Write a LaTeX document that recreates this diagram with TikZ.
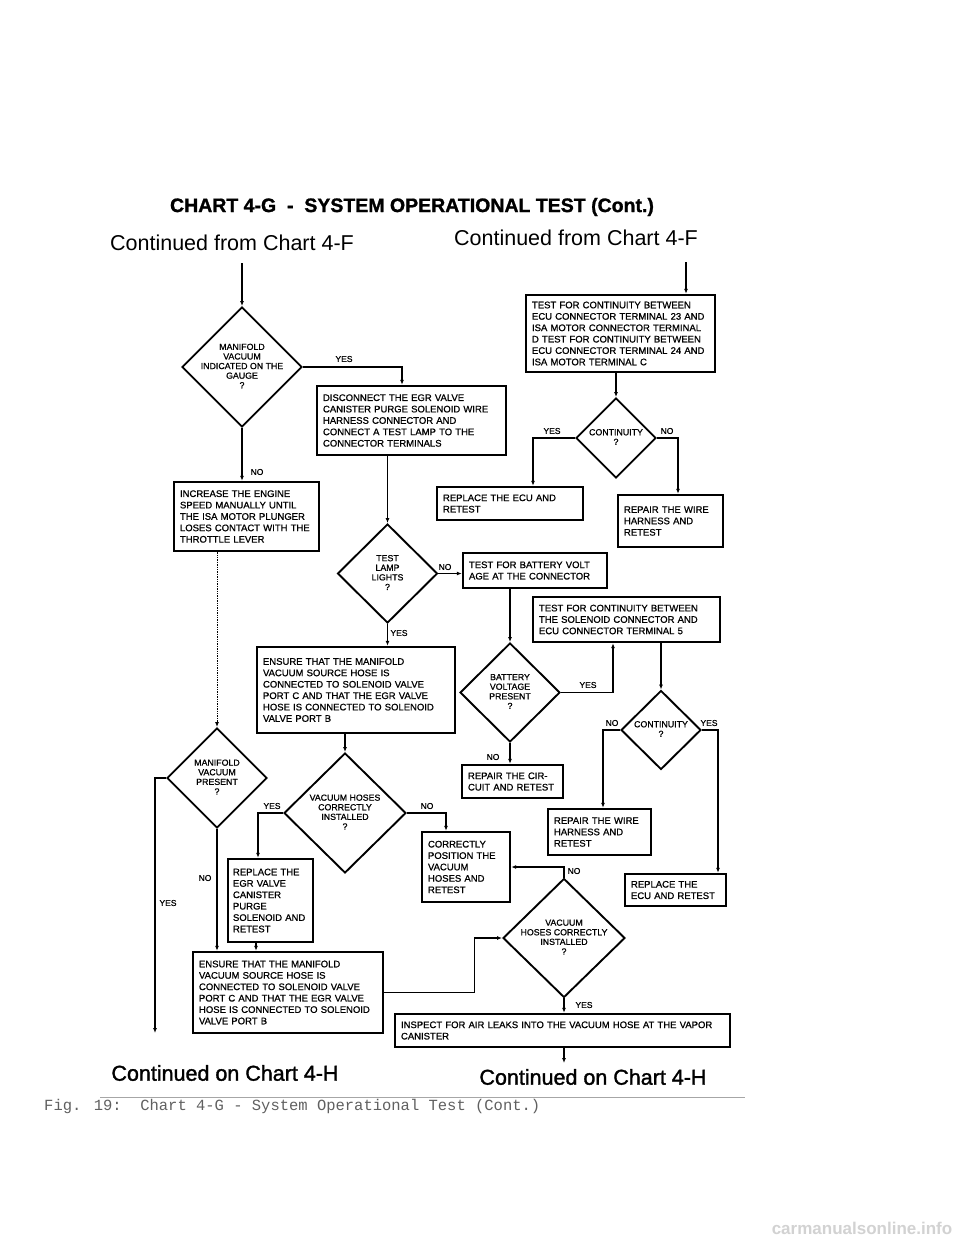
\documentclass[tikz,border=0pt]{standalone}
\usepackage{fontspec}
\setmainfont{Liberation Sans}
\newfontfamily\monofont{Liberation Mono}
\newfontfamily\boxfont[FakeBold=0.8]{Liberation Sans}
\newfontfamily\heavyfont[FakeBold=1.5]{Liberation Sans}
\newfontfamily\titlefont[FakeBold=1.2]{Liberation Sans Bold}
\usetikzlibrary{shapes.geometric,arrows.meta,calc}
\tikzset{
 pbox/.style={draw, line width=2.4pt, align=left, inner xsep=6pt, inner ysep=2pt, font=\boxfont\fontsize{9.5}{11.4}\selectfont},
 dia/.style={draw, diamond, line width=1.9pt, inner sep=0pt},
 dtext/.style={align=center, font=\boxfont\fontsize{8.8}{9.6}\selectfont, inner sep=0pt},
 conn/.style={line width=1.4pt},
 arr/.style={conn, -{Latex[length=5pt,width=4pt]}},
 dotline/.style={densely dotted, line width=1pt},
 lab/.style={font=\boxfont\fontsize{8.5}{9}\selectfont, inner sep=0pt},
 big/.style={font=\fontsize{21.5}{24}\selectfont, inner sep=0pt},
 bigheavy/.style={font=\heavyfont\fontsize{21.5}{24}\selectfont, inner sep=0pt},
}
\begin{document}
\begin{tikzpicture}[x=1pt,y=-1pt]
\fill[white] (0,0) rectangle (960,1242);
\useasboundingbox (0,0) rectangle (960,1242);

% headings
\node[font=\titlefont\fontsize{19.5}{22}\selectfont, inner sep=0pt] (title) at (412,207) {CHART 4-G \ - \ SYSTEM OPERATIONAL TEST (Cont.)};
\node[big] (cf1) at (232,243) {Continued from Chart 4-F};
\node[big] (cf2) at (576,238) {Continued from Chart 4-F};
\node[bigheavy] (co1) at (225,1073) {Continued on Chart 4-H};
\node[bigheavy] (co2) at (593,1077) {Continued on Chart 4-H};

% boxes
\node[pbox, minimum width=189, minimum height=69, text width=177] (B1) at (411.5,420.5)
 {DISCONNECT THE EGR VALVE\\CANISTER PURGE SOLENOID WIRE\\HARNESS CONNECTOR AND\\CONNECT A TEST LAMP TO THE\\CONNECTOR TERMINALS};
\node[pbox, minimum width=145, minimum height=69, text width=133] (B2) at (246.5,516.5)
 {INCREASE THE ENGINE\\SPEED MANUALLY UNTIL\\THE ISA MOTOR PLUNGER\\LOSES CONTACT WITH THE\\THROTTLE LEVER};
\node[pbox, minimum width=189, minimum height=77, text width=177] (B3) at (620.5,333.5)
 {TEST FOR CONTINUITY BETWEEN\\ECU CONNECTOR TERMINAL 23 AND\\ISA MOTOR CONNECTOR TERMINAL\\D TEST FOR CONTINUITY BETWEEN\\ECU CONNECTOR TERMINAL 24 AND\\ISA MOTOR TERMINAL C};
\node[pbox, minimum width=146, minimum height=33, text width=134] (B4) at (510,503.5)
 {REPLACE THE ECU AND\\RETEST};
\node[pbox, minimum width=105, minimum height=52, text width=93] (B5) at (670.5,521)
 {REPAIR THE WIRE\\HARNESS AND\\RETEST};
\node[pbox, minimum width=144, minimum height=35, text width=132] (B6) at (535,570.5)
 {TEST FOR BATTERY VOLT\\AGE AT THE CONNECTOR};
\node[pbox, minimum width=187, minimum height=45, text width=175] (B7) at (626.5,619.5)
 {TEST FOR CONTINUITY BETWEEN\\THE SOLENOID CONNECTOR AND\\ECU CONNECTOR TERMINAL 5};
\node[pbox, minimum width=198, minimum height=86, text width=186] (B8) at (356,690)
 {ENSURE THAT THE MANIFOLD\\VACUUM SOURCE HOSE IS\\CONNECTED TO SOLENOID VALVE\\PORT C AND THAT THE EGR VALVE\\HOSE IS CONNECTED TO SOLENOID\\VALVE PORT B};
\node[pbox, minimum width=101, minimum height=33, text width=89] (B9) at (512.5,781.5)
 {REPAIR THE CIR-\\CUIT AND RETEST};
\node[pbox, minimum width=103, minimum height=46, text width=91] (B10) at (599.5,832)
 {REPAIR THE WIRE\\HARNESS AND\\RETEST};
\node[pbox, minimum width=101, minimum height=32, text width=89] (B11) at (675.5,890)
 {REPLACE THE\\ECU AND RETEST};
\node[pbox, minimum width=88, minimum height=70, text width=76] (B12) at (466,867)
 {CORRECTLY\\POSITION THE\\VACUUM\\HOSES AND\\RETEST};
\node[pbox, minimum width=85, minimum height=83, text width=75, inner xsep=5pt] (B13) at (270.5,900.5)
 {REPLACE THE\\EGR VALVE\\CANISTER\\PURGE\\SOLENOID AND\\RETEST};
\node[pbox, minimum width=190, minimum height=81, text width=178] (B14) at (288,992.5)
 {ENSURE THAT THE MANIFOLD\\VACUUM SOURCE HOSE IS\\CONNECTED TO SOLENOID VALVE\\PORT C AND THAT THE EGR VALVE\\HOSE IS CONNECTED TO SOLENOID\\VALVE PORT B};
\node[pbox, minimum width=335, minimum height=33, text width=323] (B15) at (562.5,1030.5)
 {INSPECT FOR AIR LEAKS INTO THE VACUUM HOSE AT THE VAPOR\\CANISTER};

% diamonds
\node[dia, minimum width=120, minimum height=120] (D1) at (242,367) {};
\node[dtext] (D1t) at ([yshift=1pt]D1.center) {MANIFOLD\\VACUUM\\INDICATED ON THE\\GAUGE\\?};
\node[dia, minimum width=100, minimum height=99] (D2) at (387.5,573.5) {};
\node[dtext] (D2t) at ([yshift=1pt]D2.center) {TEST\\LAMP\\LIGHTS\\?};
\node[dia, minimum width=100, minimum height=99] (D3) at (510,692.5) {};
\node[dtext] (D3t) at ([yshift=1pt]D3.center) {BATTERY\\VOLTAGE\\PRESENT\\?};
\node[dia, minimum width=80, minimum height=80] (D4) at (616,438) {};
\node[dtext] (D4t) at ([yshift=1pt]D4.center) {CONTINUITY\\?};
\node[dia, minimum width=80, minimum height=79] (D5) at (661,730) {};
\node[dtext] (D5t) at ([yshift=1pt]D5.center) {CONTINUITY\\?};
\node[dia, minimum width=100, minimum height=100] (D6) at (217,778) {};
\node[dtext] (D6t) at ([yshift=1pt]D6.center) {MANIFOLD\\VACUUM\\PRESENT\\?};
\node[dia, minimum width=122, minimum height=120] (D7) at (345,813) {};
\node[dtext] (D7t) at ([yshift=1pt]D7.center) {VACUUM HOSES\\CORRECTLY\\INSTALLED\\?};
\node[dia, minimum width=122, minimum height=119] (D8) at (564,938) {};
\node[dtext] (D8t) at ([yshift=1pt]D8.center) {VACUUM\\HOSES CORRECTLY\\INSTALLED\\?};

% free ends
\coordinate (s1) at (242,263);
\coordinate (s2) at (686,262);
\coordinate (e1) at (155,1033);
\coordinate (e2) at (564,1063);

% connectors
\draw[arr] (s1) -- (D1.north);
\draw[arr] (D1.east) -| ([xshift=-9.5pt]B1.north);
\draw[arr] (D1.south) -- ([xshift=-4.5pt]B2.north);
\draw[arr] ([xshift=-24pt]B1.south) -- (D2.north);
\draw[arr] (D2.east) -- (D2.east -| B6.west);
\draw[arr] (D2.south) -- (D2.south |- B8.north);
\draw[arr] (B8.south -| D7.north) -- (D7.north);
\draw[arr] (D7.west) -| ([xshift=-12.5pt]B13.north);
\draw[arr] (D7.east) -| ([xshift=-20pt]B12.north);
\coordinate (b13o) at ([xshift=-14.5pt]B13.south);
\draw[arr] (b13o) -- (b13o |- B14.north);
\draw[arr, dotline] (B2.south -| D6.north) -- (D6.north);
\draw[arr] (D6.west) -| (e1);
\draw[arr] (D6.south) -- (D6.south |- B14.north);
\draw[arr] (B14.east) -- ++(90,0) |- (D8.west);
\draw[arr] (D8.north) |- (B12.east);
\draw[arr] (D8.south) -- (D8.south |- B15.north);
\draw[arr] (B15.south -| e2) -- (e2);
\draw[arr] (s2) -- (s2 |- B3.north);
\draw[arr] (B3.south -| D4.north) -- (D4.north);
\draw[arr] (D4.west) -| ([xshift=23pt]B4.north);
\draw[arr] (D4.east) -| ([xshift=7.5pt]B5.north);
\draw[arr] (B6.south -| D3.north) -- (D3.north);
\draw[arr] (D3.east) -| ([xshift=-13.5pt]B7.south);
\draw[arr] (D3.south) -- (D3.south |- B9.north);
\draw[arr] (B7.south -| D5.north) -- (D5.north);
\draw[arr] (D5.west) -| ([xshift=3.5pt]B10.north);
\draw[arr] (D5.east) -| ([xshift=42.5pt]B11.north);

% labels
\node[lab] (l1) at (344,359) {YES};
\node[lab] (l2) at (257,472) {NO};
\node[lab] (l3) at (445,567) {NO};
\node[lab] (l4) at (399,633) {YES};
\node[lab] (l5) at (552,431) {YES};
\node[lab] (l6) at (667,431) {NO};
\node[lab] (l7) at (588,685) {YES};
\node[lab] (l8) at (493,757) {NO};
\node[lab] (l9) at (612,723) {NO};
\node[lab] (l10) at (709,723) {YES};
\node[lab] (l11) at (168,903) {YES};
\node[lab] (l12) at (205,878) {NO};
\node[lab] (l13) at (272,806) {YES};
\node[lab] (l14) at (427,806) {NO};
\node[lab] (l15) at (574,871) {NO};
\node[lab] (l16) at (584,1005) {YES};

% caption
\draw[line width=0.8pt, gray!70] (100,1097) -- (745,1097);
\node[anchor=west, inner sep=0pt, font=\monofont\fontsize{15.5}{16}\selectfont, text=gray!75!black] (cap) at (44,1106) {Fig. 19:\ \ Chart 4-G - System Operational Test (Cont.)};
\node[inner sep=0pt, font=\bfseries\fontsize{17}{18}\selectfont, text=gray!35] (wm) at (862,1228) {carmanualsonline.info};
\end{tikzpicture}
\end{document}
